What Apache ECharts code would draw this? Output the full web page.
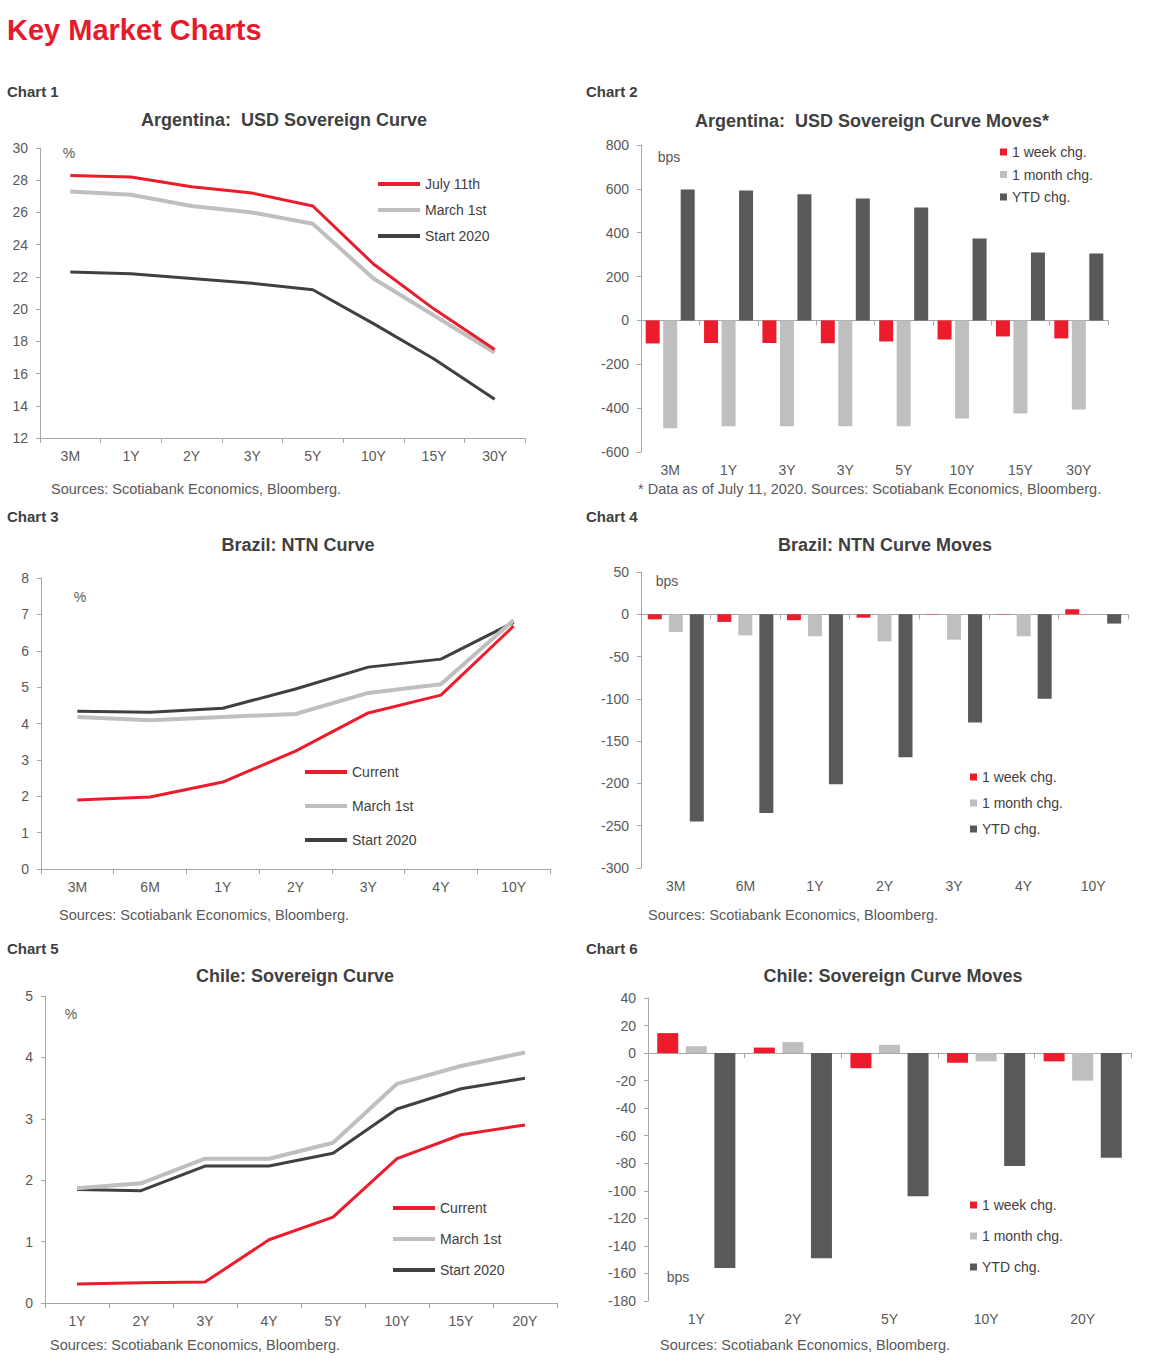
<!DOCTYPE html>
<html><head><meta charset="utf-8">
<script src="https://cdn.jsdelivr.net/npm/echarts@6/dist/echarts.min.js"></script>
<style>html,body{margin:0;padding:0;background:#fff}#c{width:1156px;height:1363px}</style>
</head><body><div id="c"></div>
<script>
// ---- Chart 1: Argentina USD Sovereign Curve ----
const arCats = ['3M','1Y','2Y','3Y','5Y','10Y','15Y','30Y'];
const arJul11 = [28.3, 28.2, 27.6, 27.2, 26.4, 22.8, 20.0, 17.5];
const arMar1  = [27.3, 27.1, 26.4, 26.0, 25.3, 21.9, 19.6, 17.3];
const arStart = [22.3, 22.2, 21.9, 21.6, 21.2, 19.1, 16.9, 14.4];
// ---- Chart 2: Argentina USD Sovereign Curve Moves ----
const arMoveCats = ['3M','1Y','3Y','3Y','5Y','10Y','15Y','30Y'];
const arWeek  = [-105, -103, -103, -104, -96, -87, -73, -82];
const arMonth = [-492, -483, -483, -483, -483, -447, -424, -406];
const arYtd   = [597, 593, 575, 556, 515, 374, 310, 305];
// ---- Chart 3: Brazil NTN Curve ----
const brCats = ['3M','6M','1Y','2Y','3Y','4Y','10Y'];
const brCurrent = [1.90, 1.98, 2.39, 3.24, 4.29, 4.78, 6.68];
const brMar1    = [4.18, 4.09, 4.18, 4.26, 4.84, 5.08, 6.84];
const brStart   = [4.34, 4.31, 4.42, 4.95, 5.55, 5.77, 6.78];
// ---- Chart 4: Brazil NTN Curve Moves ----
const brMoveCats = ['3M','6M','1Y','2Y','3Y','4Y','10Y'];
const brWeek  = [-6, -9, -7, -4, 0.4, 0.4, 6];
const brMonth = [-21, -25, -26, -32, -30, -26, null];
const brYtd   = [-245, -235, -201, -169, -128, -100, -11];
// ---- Chart 5: Chile Sovereign Curve ----
const clCats = ['1Y','2Y','3Y','4Y','5Y','10Y','15Y','20Y'];
const clCurrent = [0.31, 0.33, 0.34, 1.03, 1.40, 2.35, 2.74, 2.90];
const clMar1    = [1.87, 1.95, 2.35, 2.35, 2.61, 3.57, 3.86, 4.08];
const clStart   = [1.85, 1.83, 2.23, 2.23, 2.44, 3.16, 3.49, 3.66];
// ---- Chart 6: Chile Sovereign Curve Moves ----
const clMoveCats = ['1Y','2Y','5Y','10Y','20Y'];
const clWeek  = [14.5, 4, -11, -7, -6];
const clMonth = [5, 8, 6, -6, -20];
const clYtd   = [-156, -149, -104, -82, -76];

const FONT = '"Liberation Sans", Arial, sans-serif';
const RED = '#ec1c2d', LGRAY = '#bfbfbf', DLINE = '#404040', DBAR = '#595959';
const AXIS = '#a6a6a6', TICKTXT = '#595959', TXT = '#404040';

const option = {
  animation: false, backgroundColor: '#ffffff',
  textStyle: {fontFamily: FONT},
  grid: [], xAxis: [], yAxis: [], series: [], legend: [], graphic: []
};

function addChart(c) {
  const gi = option.grid.length;
  option.grid.push({left: c.left, top: c.top, width: c.width, height: c.height, containLabel: false});
  const lbl = {show: true, color: TICKTXT, fontSize: 14, fontFamily: FONT, margin: 11};
  const xi = option.xAxis.length;
  option.xAxis.push({
    gridIndex: gi, type: 'category', data: c.cats, boundaryGap: true, position: 'bottom',
    axisLine: {show: true, onZero: c.bars ? true : false, lineStyle: {color: AXIS, width: 1}},
    axisTick: {show: true, length: 5, lineStyle: {color: AXIS}},
    axisLabel: c.bars ? {show: false} : lbl,
    splitLine: {show: false}
  });
  if (c.bars) {
    option.xAxis.push({
      gridIndex: gi, type: 'category', data: c.cats, boundaryGap: true, position: 'bottom',
      axisLine: {show: false, onZero: false}, axisTick: {show: false},
      axisLabel: lbl, splitLine: {show: false}
    });
  }
  const yi = option.yAxis.length;
  option.yAxis.push({
    gridIndex: gi, type: 'value', min: c.min, max: c.max, interval: c.interval,
    axisLine: {show: true, lineStyle: {color: AXIS, width: 1}},
    axisTick: {show: true, length: 4, lineStyle: {color: AXIS}},
    axisLabel: {color: TICKTXT, fontSize: 14, fontFamily: FONT, margin: 12},
    splitLine: {show: false}
  });
  c.series.forEach(s => {
    if (c.bars) {
      option.series.push({type: 'bar', name: s.name, xAxisIndex: xi, yAxisIndex: yi, data: s.data,
        barWidth: c.barWidth, barGap: c.barGap, itemStyle: {color: s.color}});
    } else {
      option.series.push({type: 'line', name: s.name, xAxisIndex: xi, yAxisIndex: yi, data: s.data,
        symbol: 'none', z: s.z, lineStyle: {color: s.color, width: s.width}, itemStyle: {color: s.color}});
    }
  });
  option.legend.push(Object.assign({
    orient: 'vertical', left: c.legend.left, top: c.legend.top, itemGap: c.legend.gap,
    data: c.legend.data, textStyle: {color: TXT, fontSize: 14, fontFamily: FONT},
    selectedMode: false, padding: 0
  }, c.bars ? {itemWidth: 7, itemHeight: 7, icon: 'rect'} : {itemWidth: 42, itemHeight: 4, icon: 'rect'}));
  // title & unit labels & sources
  option.graphic.push({type: 'text', x: c.titleX, y: c.titleY, style: {text: c.title, font: 'bold 18px ' + FONT, fill: TXT, align: 'center', verticalAlign: 'middle'}});
  option.graphic.push({type: 'text', x: c.unitX, y: c.unitY, style: {text: c.unit, font: '14px ' + FONT, fill: TICKTXT, align: 'center', verticalAlign: 'middle'}});
  option.graphic.push({type: 'text', x: c.srcX, y: c.srcY, style: {text: c.src, font: '14.5px ' + FONT, fill: TICKTXT, align: 'left', verticalAlign: 'middle'}});
  option.graphic.push({type: 'text', x: c.labX, y: c.labY, style: {text: c.label, font: 'bold 15px ' + FONT, fill: TXT, align: 'left', verticalAlign: 'middle'}});
}

const SRC = 'Sources: Scotiabank Economics, Bloomberg.';

addChart({left: 40, top: 148, width: 485, height: 290, cats: arCats, min: 12, max: 30, interval: 2,
  series: [
    {name: 'Start 2020', data: arStart, color: DLINE, width: 3, z: 2},
    {name: 'March 1st', data: arMar1, color: LGRAY, width: 4, z: 3},
    {name: 'July 11th', data: arJul11, color: RED, width: 3, z: 4}],
  legend: {left: 378, top: 177, gap: 12, data: ['July 11th', 'March 1st', 'Start 2020']},
  title: 'Argentina:  USD Sovereign Curve', titleX: 284, titleY: 120,
  unit: '%', unitX: 69, unitY: 153, src: SRC, srcX: 51, srcY: 489, label: 'Chart 1', labX: 7, labY: 91});

addChart({left: 641, top: 145, width: 467, height: 307, cats: arMoveCats, min: -600, max: 800, interval: 200,
  bars: true, barWidth: 14, barGap: '25%',
  series: [
    {name: '1 week chg.', data: arWeek, color: RED},
    {name: '1 month chg.', data: arMonth, color: LGRAY},
    {name: 'YTD chg.', data: arYtd, color: DBAR}],
  legend: {left: 1000, top: 145, gap: 8.5, data: ['1 week chg.', '1 month chg.', 'YTD chg.']},
  title: 'Argentina:  USD Sovereign Curve Moves*', titleX: 872, titleY: 121,
  unit: 'bps', unitX: 669, unitY: 157,
  src: '* Data as of July 11, 2020. Sources: Scotiabank Economics, Bloomberg.', srcX: 638, srcY: 489,
  label: 'Chart 2', labX: 586, labY: 91});

addChart({left: 41, top: 578, width: 509, height: 291, cats: brCats, min: 0, max: 8, interval: 1,
  series: [
    {name: 'Start 2020', data: brStart, color: DLINE, width: 3, z: 2},
    {name: 'March 1st', data: brMar1, color: LGRAY, width: 4, z: 3},
    {name: 'Current', data: brCurrent, color: RED, width: 3, z: 4}],
  legend: {left: 305, top: 765, gap: 20, data: ['Current', 'March 1st', 'Start 2020']},
  title: 'Brazil: NTN Curve', titleX: 298, titleY: 545,
  unit: '%', unitX: 80, unitY: 597, src: SRC, srcX: 59, srcY: 915, label: 'Chart 3', labX: 7, labY: 516});

addChart({left: 641, top: 572, width: 487, height: 296, cats: brMoveCats, min: -300, max: 50, interval: 50,
  bars: true, barWidth: 14, barGap: '50%',
  series: [
    {name: '1 week chg.', data: brWeek, color: RED},
    {name: '1 month chg.', data: brMonth, color: LGRAY},
    {name: 'YTD chg.', data: brYtd, color: DBAR}],
  legend: {left: 970, top: 770, gap: 12, data: ['1 week chg.', '1 month chg.', 'YTD chg.']},
  title: 'Brazil: NTN Curve Moves', titleX: 885, titleY: 545,
  unit: 'bps', unitX: 667, unitY: 581, src: SRC, srcX: 648, srcY: 915, label: 'Chart 4', labX: 586, labY: 516});

addChart({left: 45, top: 996, width: 512, height: 307, cats: clCats, min: 0, max: 5, interval: 1,
  series: [
    {name: 'Start 2020', data: clStart, color: DLINE, width: 3, z: 2},
    {name: 'March 1st', data: clMar1, color: LGRAY, width: 4, z: 3},
    {name: 'Current', data: clCurrent, color: RED, width: 3, z: 4}],
  legend: {left: 393, top: 1201, gap: 17, data: ['Current', 'March 1st', 'Start 2020']},
  title: 'Chile: Sovereign Curve', titleX: 295, titleY: 976,
  unit: '%', unitX: 71, unitY: 1014, src: SRC, srcX: 50, srcY: 1345, label: 'Chart 5', labX: 7, labY: 948});

addChart({left: 648, top: 998, width: 483, height: 303, cats: clMoveCats, min: -180, max: 40, interval: 20,
  bars: true, barWidth: 21, barGap: '36%',
  series: [
    {name: '1 week chg.', data: clWeek, color: RED},
    {name: '1 month chg.', data: clMonth, color: LGRAY},
    {name: 'YTD chg.', data: clYtd, color: DBAR}],
  legend: {left: 970, top: 1198, gap: 17, data: ['1 week chg.', '1 month chg.', 'YTD chg.']},
  title: 'Chile: Sovereign Curve Moves', titleX: 893, titleY: 976,
  unit: 'bps', unitX: 678, unitY: 1277, src: SRC, srcX: 660, srcY: 1345, label: 'Chart 6', labX: 586, labY: 948});

option.graphic.push({type: 'text', x: 7, y: 30, style: {text: 'Key Market Charts', font: 'bold 29px ' + FONT, fill: '#e8192c', align: 'left', verticalAlign: 'middle'}});

const chart = echarts.init(document.getElementById('c'), null, {renderer: 'svg', width: 1156, height: 1363});
chart.setOption(option);
</script>
</body></html>
